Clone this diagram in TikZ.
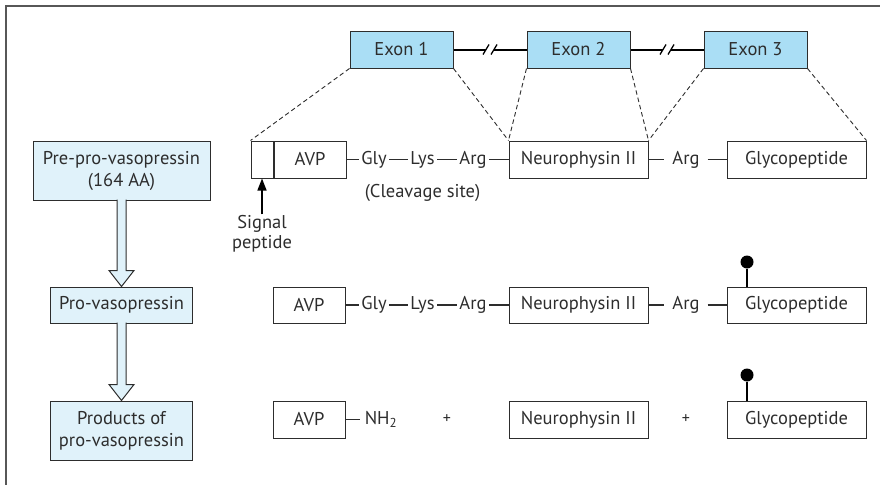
\documentclass[tikz,border=0pt]{standalone}
\usepackage{fontspec}
\setmainfont{PT Sans}
\usepackage{xcolor}
\usepackage{tikz}
\usetikzlibrary{arrows.meta, positioning, calc}

\definecolor{exonblue}{RGB}{170,222,245}
\definecolor{paleblue}{RGB}{224,242,250}
\definecolor{ink}{RGB}{45,45,45}

\begin{document}
\begin{tikzpicture}[x=1pt, y=-1pt, node distance=0pt, font=\fontsize{18.5}{22}\selectfont, text=ink]
				% Styles
				\tikzstyle{exon} = [draw=ink, fill=exonblue, rectangle, minimum height=37pt, minimum width=103pt, line width=1pt]
				\tikzstyle{stage} = [draw=ink, fill=paleblue, rectangle, minimum width=142pt, minimum height=36pt, align=center, line width=1pt]
				\tikzstyle{chain} = [draw=ink, fill=white, rectangle, minimum height=37pt, minimum width=139pt, line width=1pt]
				\tikzstyle{aa} = [inner xsep=2.5pt, inner ysep=2pt]
				\tikzstyle{bond} = [draw=ink, line width=1.1pt]
				\tikzstyle{intron} = [draw=black, line width=2pt]
				\tikzstyle{guide} = [draw=ink, line width=0.9pt, dash pattern=on 4.5pt off 3pt]
				\tikzstyle{fatarrow} = [draw=ink, fill=paleblue, line width=1pt, line join=miter]
				\tikzstyle{sugar} = [circle, fill=black, inner sep=0pt, minimum size=13pt]

				% Frame
				\useasboundingbox (0,0) rectangle (880,485);
				\draw[draw=ink!80, line width=1.4pt] (880,6) -- (6,6) -- (6,485);

				% Exons
				\node (exonA) [exon] at (401.5,49.5) {Exon 1};
				\node (exonB) [exon] at (578.5,49.5) {Exon 2};
				\node (exonC) [exon] at (755.5,49.5) {Exon 3};
				\coordinate (cutA) at (490,49.5);
				\coordinate (cutB) at (667,49.5);

				% Stages
				\node (pre) [stage, minimum width=177pt, minimum height=59pt] at (121.5,170.5) {Pre-pro-vasopressin\\(164 AA)};
				\node (pro) [stage] at (121.5,305) {Pro-vasopressin};
				\node (prod) [stage, minimum height=59pt] at (121.5,430.5) {Products of\\pro-vasopressin};

				% Pre-pro-vasopressin
				\node (sig) [chain, minimum width=22pt] at (262,159.5) {};
				\node (avpA) [chain, minimum width=72pt, right=of sig] {AVP};
				\node (glyA) [aa] at (374,159.5) {Gly};
				\node (lysA) [aa] at (422.5,159.5) {Lys};
				\node (argA) [aa] at (473,159.5) {Arg};
				\node (neuA) [chain] at (578.5,159.5) {Neurophysin II};
				\node (argAA) [aa, inner xsep=8pt] at (686,159.5) {Arg};
				\node (glcA) [chain] at (796.5,159.5) {Glycopeptide};
				\node (cleave) at (422.5,193) {(Cleavage site)};
				\node (sigtxt) [align=center, font=\fontsize{18.5}{20}\selectfont, inner sep=1pt] at (262,234) {Signal\\peptide};

				% Pro-vasopressin
				\node (avpB) [chain, minimum width=72pt, minimum height=36pt] at (309,305) {AVP};
				\node (glyB) [aa] at (374,305) {Gly};
				\node (lysB) [aa] at (422.5,305) {Lys};
				\node (argB) [aa] at (473,305) {Arg};
				\node (neuB) [chain, minimum height=36pt] at (578.5,305) {Neurophysin II};
				\node (argBB) [aa, inner xsep=8pt] at (686,305) {Arg};
				\node (glcB) [chain, minimum height=36pt] at (796.5,305) {Glycopeptide};
				\node (sugarB) [sugar] at (747,262) {};

				% Products
				\node (avpC) [chain, minimum width=72pt] at (309,419.5) {AVP};
				\node (nh) [aa, inner xsep=5pt] at (381,419.5) {NH\textsubscript{2}};
				\node (plusA) [font=\fontsize{16}{18}\selectfont] at (447,419.5) {+};
				\node (neuC) [chain] at (578.5,419.5) {Neurophysin II};
				\node (plusB) [font=\fontsize{16}{18}\selectfont] at (686,419.5) {+};
				\node (glcC) [chain] at (796.5,419.5) {Glycopeptide};
				\node (sugarC) [sugar] at (747,375) {};

				% Connections
				\draw [intron] (exonA) -- ($(cutA)+(-4,0)$);
				\draw [intron] ($(cutA)+(4,0)$) -- (exonB);
				\draw [intron] (exonB) -- ($(cutB)+(-4,0)$);
				\draw [intron] ($(cutB)+(4,0)$) -- (exonC);
				\foreach \c in {cutA, cutB} {
					\draw [intron, line width=1.3pt] ($(\c)+(-7,5)$) -- ($(\c)+(-1,-5)$);
					\draw [intron, line width=1.3pt] ($(\c)+(1,5)$) -- ($(\c)+(7,-5)$);
				}
				\draw [guide] (exonA.south west) -- (sig.north west);
				\draw [guide] (exonA.south east) -- (neuA.north west);
				\draw [guide] (exonB.south west) -- (neuA.north west);
				\draw [guide] (exonB.south east) -- (neuA.north east);
				\draw [guide] (exonC.south west) -- (neuA.north east);
				\draw [guide] (exonC.south east) -- (glcA.north east);

				\draw [bond] (avpA) -- (glyA);
				\draw [bond] (glyA) -- (lysA);
				\draw [bond] (lysA) -- (argA);
				\draw [bond] (argA) -- (neuA);
				\draw [bond] (neuA) -- (argAA);
				\draw [bond] (argAA) -- (glcA);
				\draw [bond, draw=black, line width=1.4pt, -{Triangle[length=12pt, width=9pt]}] (sigtxt) -- (sig);

				\draw [bond] (avpB) -- (glyB);
				\draw [bond] (glyB) -- (lysB);
				\draw [bond] (lysB) -- (argB);
				\draw [bond] (argB) -- (neuB);
				\draw [bond] (neuB) -- (argBB);
				\draw [bond] (argBB) -- (glcB);
				\draw [bond, draw=black, line width=1.4pt] (sugarB) -- (sugarB |- glcB.north);

				\draw [bond] (avpC) -- (nh);
				\draw [bond, draw=black, line width=1.4pt] (sugarC) -- (sugarC |- glcC.north);

				% Block arrows
				\filldraw [fatarrow] ($(pre.south)+(-4.5,-1)$) -- ($(pro.north)+(-4.5,-16)$) -- ++(-8,0) -- (pro.north) -- ++(12.5,-16) -- ++(-8,0) -- ($(pre.south)+(4.5,-1)$);
				\filldraw [fatarrow] ($(pro.south)+(-4.5,-1)$) -- ($(prod.north)+(-4.5,-16)$) -- ++(-8,0) -- (prod.north) -- ++(12.5,-16) -- ++(-8,0) -- ($(pro.south)+(4.5,-1)$);

			\end{tikzpicture}
\end{document}
